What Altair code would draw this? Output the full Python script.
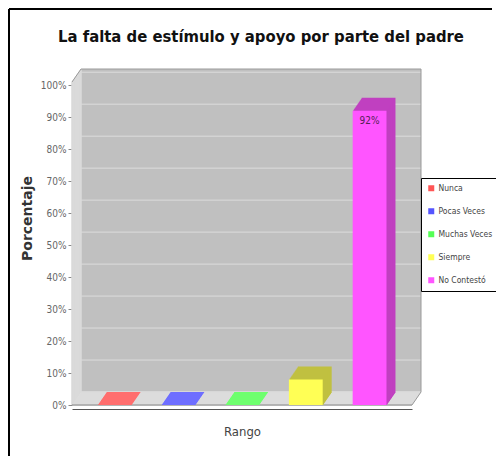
import altair as alt
import pandas as pd

# ---------------- data ----------------
categories = ["Nunca", "Pocas Veces", "Muchas Veces", "Siempre", "No Contestó"]
values = [0, 0, 0, 8, 92]
front_colors = ["#ff5555", "#5555ff", "#55ff55", "#ffff55", "#ff55ff"]
side_colors = ["#ff6e6e", "#6e6eff", "#6eff6e", "#c0c040", "#c040c0"]
tick_values = list(range(0, 101, 10))

title_text = "La falta de estímulo y apoyo por parte del padre"

# ---------------- geometry / style ----------------
W, H = 340, 323
DX, DY = 9, -13
N = 13
YMAX = 101

df = pd.DataFrame({"cat": categories, "value": values,
                   "front": front_colors, "side": side_colors})
ticks_df = pd.DataFrame({"t": tick_values})
one = pd.DataFrame({"d": [0]})

xs = alt.Scale(domain=categories, paddingInner=0.47, paddingOuter=0.40)
ys = alt.Scale(domain=[0, YMAX], nice=False)

XAXIS = alt.Axis(labels=False, ticks=False, domain=True, offset=4,
                 domainColor="#555", titleFont="DejaVu Sans Condensed",
                 titleFontSize=13, titleFontWeight="normal",
                 titleColor="#444", titlePadding=16)
YAXIS = alt.Axis(values=tick_values, labelOverlap=False,
                 labelExpr="datum.value + '%'",
                 grid=False, tickSize=4, tickColor="#888",
                 domainColor="#888", labelColor="#666",
                 labelFontSize=10, labelFont="DejaVu Sans Condensed",
                 titleFont="DejaVu Sans", titleFontSize=14,
                 titleFontWeight="bold", titleColor="#333",
                 titleX=-38, titleY=136)

def xenc():
    return alt.X("cat:N", scale=xs, title="Rango", axis=XAXIS)

def yfield(f):
    return alt.Y(f, scale=ys, title="Porcentaje", axis=YAXIS)

def ydat(v):
    return alt.YDatum(v, title="Porcentaje", axis=YAXIS)

layers = []

# outer frame (left and top edges of the picture frame)
layers += [
    alt.Chart(one).mark_rule(color="#000", strokeWidth=2).encode(
        x=alt.value(-63), y=alt.value(-73), y2=alt.value(H + 60)),
    alt.Chart(one).mark_rule(color="#000", strokeWidth=2).encode(
        x=alt.value(-63), x2=alt.value(W + 80), y=alt.value(-73)),
]

# chart title
layers.append(
    alt.Chart(one).mark_text(text=title_text, font="DejaVu Sans Condensed",
                             fontSize=16.5, fontWeight="bold", color="#111",
                             align="center", baseline="alphabetic").encode(
        x=alt.value(W / 2 + 19), y=alt.value(-40))
)

# back wall
layers.append(
    alt.Chart(one).mark_rect(color="#c0c0c0", xOffset=DX, x2Offset=DX,
                             yOffset=DY, y2Offset=DY).encode(
        x=alt.value(0), x2=alt.value(W),
        y=ydat(YMAX), y2=alt.datum(0))
)

# gridlines on back wall
layers.append(
    alt.Chart(ticks_df).mark_rule(color="#dcdcdc", strokeWidth=1, xOffset=DX,
                                  x2Offset=DX, yOffset=DY).encode(
        x=alt.value(0), x2=alt.value(W), y=yfield("t:Q"))
)

# left wall and floor (extruded)
for k in range(0, N + 1):
    ox, oy = DX * k / N, DY * k / N
    layers.append(
        alt.Chart(one).mark_rule(color="#dadada", strokeWidth=1.5,
                                 xOffset=ox, yOffset=oy, y2Offset=oy).encode(
            x=alt.value(0), y=ydat(0), y2=alt.datum(YMAX))
    )
    layers.append(
        alt.Chart(one).mark_rule(color="#dadada", strokeWidth=1.5,
                                 xOffset=ox, x2Offset=ox, yOffset=oy).encode(
            x=alt.value(0), x2=alt.value(W), y=ydat(0))
    )

# outlines
oc = "#9a9a9a"
layers += [
    alt.Chart(one).mark_rule(color=oc, xOffset=DX, x2Offset=DX, yOffset=DY).encode(
        x=alt.value(0), x2=alt.value(W), y=ydat(YMAX)),
    alt.Chart(one).mark_rule(color=oc, xOffset=DX, yOffset=DY, y2Offset=DY).encode(
        x=alt.value(W), y=ydat(0), y2=alt.datum(YMAX)),
    alt.Chart(one).mark_rule(color=oc, x2Offset=DX, y2Offset=DY).encode(
        x=alt.value(0), x2=alt.value(0), y=ydat(YMAX), y2=alt.datum(YMAX)),
    alt.Chart(one).mark_rule(color=oc, x2Offset=DX, y2Offset=DY).encode(
        x=alt.value(W), x2=alt.value(W), y=ydat(0), y2=alt.datum(0)),
    alt.Chart(one).mark_rule(color="#888").encode(
        x=alt.value(0), x2=alt.value(W), y=ydat(0)),
]

# bar depth (extrusion), back to front
for k in range(N, 0, -1):
    ox, oy = DX * k / N, DY * k / N
    layers.append(
        alt.Chart(df).mark_bar(xOffset=ox, yOffset=oy, y2Offset=oy + 1).encode(
            x=xenc(), y=yfield("value:Q"), y2=alt.datum(0),
            color=alt.Color("side:N", scale=None))
    )

# bar front faces (with legend)
front = alt.Chart(df).mark_bar().encode(
    x=xenc(), y=yfield("value:Q"), y2=alt.datum(0),
    color=alt.Color("cat:N", sort=categories,
                    scale=alt.Scale(domain=categories, range=front_colors),
                    legend=alt.Legend(title=None, orient="none", legendX=349,
                                      legendY=96, strokeColor="#000",
                                      fillColor="#fff", padding=6,
                                      symbolType="square", symbolSize=36,
                                      symbolStrokeWidth=0, symbolOffset=0,
                                      labelOffset=3, labelFontSize=8.5,
                                      labelFont="DejaVu Sans Condensed",
                                      labelColor="#444", rowPadding=14)),
)
layers.append(front)

# value label
layers.append(
    alt.Chart(df).transform_filter("datum.value > 50").transform_calculate(
        label="datum.value + '%'").mark_text(
        baseline="top", dy=5, fontSize=10, font="DejaVu Sans Condensed",
        color="#552255").encode(
        x=xenc(), y=yfield("value:Q"), text="label:N")
)

chart = alt.layer(*layers).properties(
    width=W, height=H,
    autosize=alt.AutoSizeParams(type="none"),
    padding={"left": 64, "top": 74, "right": 84, "bottom": 51},
    background="#ffffff",
).configure_view(stroke=None)

chart.save("out.html", embed_options={"renderer": "svg", "actions": False})
